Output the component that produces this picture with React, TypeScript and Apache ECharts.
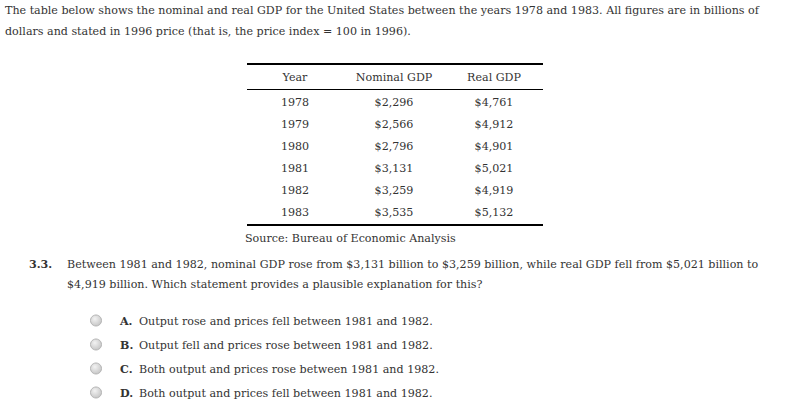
import React, { useEffect, useRef } from "react";
import * as echarts from "echarts";

const years = ["1978", "1979", "1980", "1981", "1982", "1983"];
const nominalGDP = ["$2,296", "$2,566", "$2,796", "$3,131", "$3,259", "$3,535"];
const realGDP = ["$4,761", "$4,912", "$4,901", "$5,021", "$4,919", "$5,132"];
const headers = ["Year", "Nominal GDP", "Real GDP"];
const introLines = [
  "The table below shows the nominal and real GDP for the United States between the years 1978 and 1983. All figures are in billions of",
  "dollars and stated in 1996 price (that is, the price index = 100 in 1996).",
];
const sourceText = "Source: Bureau of Economic Analysis";
const questionNumber = "3.3.";
const questionLines = [
  "Between 1981 and 1982, nominal GDP rose from $3,131 billion to $3,259 billion, while real GDP fell from $5,021 billion to",
  "$4,919 billion. Which statement provides a plausible explanation for this?",
];
const optionLetters = ["A.", "B.", "C.", "D."];
const optionTexts = [
  "Output rose and prices fell between 1981 and 1982.",
  "Output fell and prices rose between 1981 and 1982.",
  "Both output and prices rose between 1981 and 1982.",
  "Both output and prices fell between 1981 and 1982.",
];

const FONT = '"DejaVu Serif", serif';
const COLOR = "#333";
const SIZE = 11.1;

export default function App() {
  const ref = useRef<HTMLDivElement>(null);
  useEffect(() => {
    if (!ref.current) return;
    const chart = echarts.init(ref.current, undefined, { renderer: "svg" });
    const els: any[] = [];
    const txt = (text: string, x: number, y: number, opts: any = {}) =>
      els.push({
        type: "text",
        x,
        y,
        style: {
          text,
          fill: COLOR,
          font: `${opts.weight || "normal"} ${opts.size || SIZE}px ${FONT}`,
          textAlign: opts.align || "left",
          textVerticalAlign: "middle",
        },
      });
    introLines.forEach((l, i) => txt(l, 5, 10 + i * 21));
    // table
    const colX = [295, 394, 494];
    const left = 247, right = 543;
    els.push({ type: "line", shape: { x1: left, y1: 64, x2: right, y2: 64 }, style: { stroke: "#000", lineWidth: 2 } });
    headers.forEach((h, i) => txt(h, colX[i], 77, { align: "center" }));
    els.push({ type: "line", shape: { x1: left, y1: 89.5, x2: right, y2: 89.5 }, style: { stroke: "#000", lineWidth: 1 } });
    years.forEach((y, r) => {
      const cy = 102 + r * 22;
      txt(y, colX[0], cy, { align: "center" });
      txt(nominalGDP[r], colX[1], cy, { align: "center" });
      txt(realGDP[r], colX[2], cy, { align: "center" });
    });
    els.push({ type: "line", shape: { x1: left, y1: 225, x2: right, y2: 225 }, style: { stroke: "#000", lineWidth: 2 } });
    txt(sourceText, 245, 238);
    // question
    txt(questionNumber, 29, 264, { weight: "bold" });
    questionLines.forEach((l, i) => txt(l, 67, 264 + i * 20));
    optionTexts.forEach((t, i) => {
      const cy = 321 + i * 24;
      els.push({
        type: "circle",
        shape: { cx: 96, cy: cy - 0.5, r: 5.5 },
        style: {
          fill: new echarts.graphic.RadialGradient(0.4, 0.35, 0.7, [
            { offset: 0, color: "#f2f2f2" },
            { offset: 1, color: "#c4c4c4" },
          ]),
          stroke: "#b4b4b4",
          lineWidth: 1,
        },
      });
      txt(optionLetters[i], 120, cy, { weight: "bold" });
      txt(t, 139, cy);
    });
    chart.setOption({ animation: false, graphic: { elements: els } });
    return () => chart.dispose();
  }, []);
  return (
    <div
      ref={ref}
      style={{ position: "fixed", left: 0, top: 0, width: 785, height: 410, background: "#fff" }}
    />
  );
}
